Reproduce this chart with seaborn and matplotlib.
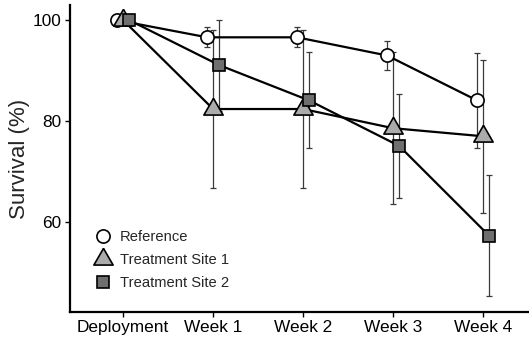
import numpy as np
import pandas as pd
import matplotlib
matplotlib.use("Agg")
import matplotlib.pyplot as plt
from matplotlib.lines import Line2D
import seaborn as sns

# Survival over the sampling period
timepoints = ["Deployment", "Week 1", "Week 2", "Week 3", "Week 4"]
series_names = ["Reference", "Treatment Site 1", "Treatment Site 2"]

reference_mean = [100.0, 96.6, 96.6, 93.0, 84.1]
reference_err = [0.0, 2.0, 2.0, 2.9, 9.4]

site1_mean = [100.0, 82.4, 82.4, 78.6, 77.0]
site1_err = [0.0, 15.7, 15.7, 15.0, 15.2]

site2_mean = [100.0, 91.1, 84.1, 75.1, 57.3]
site2_err = [0.0, 9.0, 9.5, 10.3, 12.0]

yticks = [60, 80, 100]

sns.set_theme(style="ticks")
plt.rcParams["font.family"] = ["Liberation Sans", "DejaVu Sans"]

# equilateral triangle with its centroid on the data point
tri = [(0.0, 0.577), (-0.5, -0.289), (0.5, -0.289), (0.0, 0.577)]

styles = [
    dict(marker="o", ms=9.5, mfc="white"),
    dict(marker=tri, ms=16, mfc="#ababab"),
    dict(marker="s", ms=8.6, mfc="#6f6f6f"),
]
means = [reference_mean, site1_mean, site2_mean]
errs = [reference_err, site1_err, site2_err]
offsets = [-0.067, 0.0, 0.067]

fig = plt.figure(figsize=(5.29, 3.38), dpi=100)
ax = fig.add_axes([70 / 529, 26 / 338, 1 - 70 / 529, 307 / 338])

base = np.arange(len(timepoints))
for name, m, e, st, off in zip(series_names, means, errs, styles, offsets):
    x = base + off
    df = pd.DataFrame({"x": x, "survival": m})
    ax.errorbar(x, m, yerr=e, fmt="none", ecolor="#3a3a3a", elinewidth=0.9,
                capsize=2, capthick=0.9, zorder=2)
    sns.lineplot(data=df, x="x", y="survival", ax=ax, color="black", lw=1.6,
                 marker=st["marker"], markersize=st["ms"],
                 markerfacecolor=st["mfc"], markeredgecolor="black",
                 markeredgewidth=1.2, zorder=3, legend=False)

ax.set_xlim(-0.59, 4.51)
ax.set_ylim(42.2, 103)
ax.set_xticks(base)
ax.set_xticklabels(timepoints)
ax.set_yticks(yticks)
ax.set_xlabel("")
ax.set_ylabel("Survival (%)", fontsize=16, labelpad=2)
ax.tick_params(axis="both", labelsize=12.4, length=3.5, width=1.0,
               color="black", labelcolor="black", pad=2.5)

sns.despine(ax=ax)
for side in ("left", "bottom"):
    ax.spines[side].set_linewidth(1.6)
    ax.spines[side].set_color("black")

handles = [Line2D([], [], ls="none", marker=st["marker"], markersize=st["ms"],
                  markerfacecolor=st["mfc"], markeredgecolor="black",
                  markeredgewidth=1.2) for st in styles]
ax.legend(handles, series_names, loc="upper left", bbox_to_anchor=(0.04, 0.285),
          frameon=False, fontsize=10.6, handlelength=1.2, handletextpad=0.55,
          labelspacing=0.6, borderaxespad=0)

fig.savefig("out.png", dpi=100)
